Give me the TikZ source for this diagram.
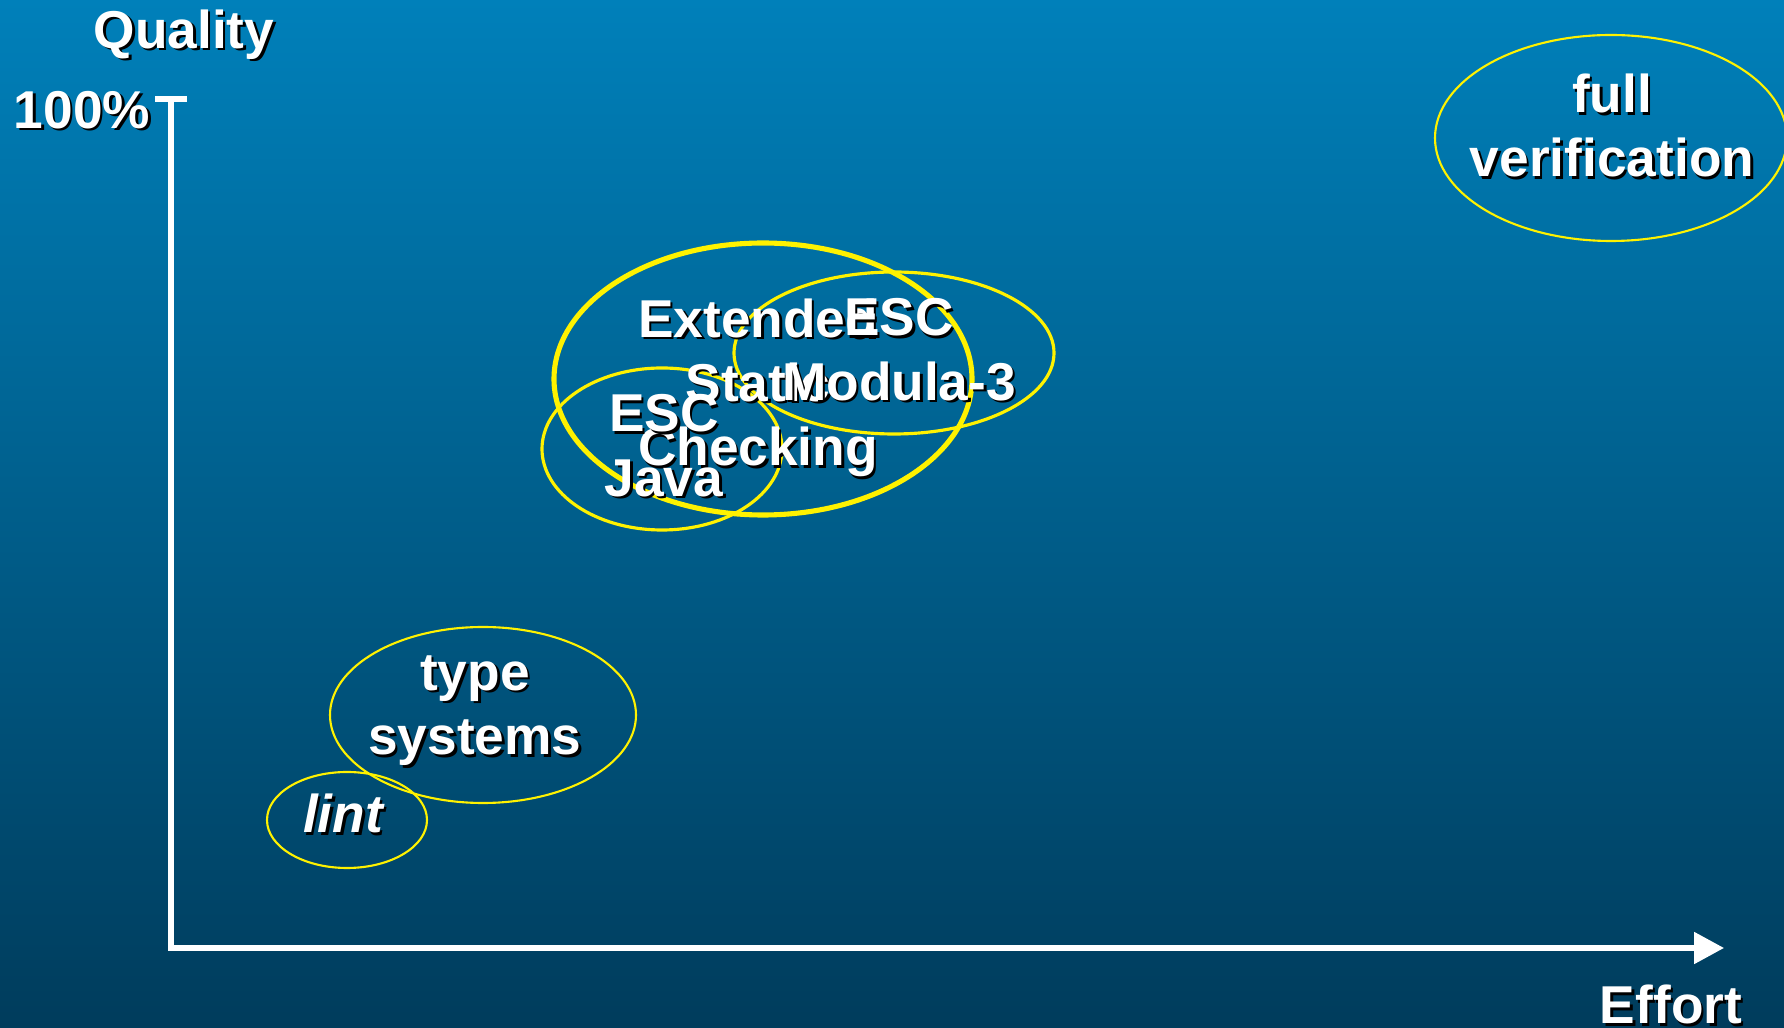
\documentclass[tikz,border=0pt]{standalone}
\usepackage{fontspec}
\setmainfont{Liberation Sans}
\usetikzlibrary{arrows.meta}
\definecolor{bgtop}{RGB}{0,128,186}
\definecolor{bgbot}{RGB}{0,60,92}
\newcommand{\shtext}[1]{\leavevmode\rlap{\kern0.7pt\raisebox{-0.7pt}{\color{black}#1}}#1}

\begin{document}
\begin{tikzpicture}[x=0.01cm,y=-0.01cm,
  lbl/.style={text=white,font=\fontsize{15.15}{18.3}\selectfont\bfseries,align=center,inner sep=0pt},
  thinring/.style={draw=yellow,line width=0.6pt},
  ring/.style={draw=yellow,line width=0.9pt},
  thickring/.style={draw=yellow,line width=1.45pt}]
  \shade[top color=bgtop,bottom color=bgbot] (0,0) rectangle (1784,1028);
  \useasboundingbox (0,0) rectangle (1784,1028);
  % axes
  \coordinate (ytop) at (171,99);
  \coordinate (orig) at (171,948);
  \coordinate (xend) at (1724,948);
  \coordinate (tickl) at (155,99);
  \coordinate (tickr) at (187,99);
  \draw[white,line width=1.45pt,-{Triangle[length=8.5pt,width=8.8pt]}] (ytop) -- (orig) -- (xend);
  \draw[white,line width=1.45pt] (tickl) -- (tickr);
  \node[lbl] (quality) at (184,36) {\shtext{Quality}};
  \node[lbl] (pct) at (82,111) {\shtext{100\%}};
  \node[lbl] (effort) at (1671,1006) {\shtext{Effort}};
  % tools
  \draw[thinring] (1611,138) ellipse (176 and 103);
  \draw[thickring] (763,379) ellipse (209 and 136);
  \draw[ring] (894,353) ellipse (160 and 81);
  \draw[ring] (662,449) ellipse (120 and 81);
  \draw[thinring] (483,715) ellipse (153 and 88);
  \draw[thinring] (347,820) ellipse (80 and 48);
  \node[lbl] (fullver) at (1612,127) {\shtext{full}\\\shtext{verification}};
  \node[lbl] (esc) at (758,389) {\shtext{Extended}\\\shtext{Static}\\\shtext{Checking}};
  \node[lbl] (escm) at (899,351) {\shtext{ESC}\\\shtext{Modula-3}};
  \node[lbl] (escj) at (664,447) {\shtext{ESC}\\\shtext{Java}};
  \node[lbl] (types) at (475,712) {\shtext{type}\\\shtext{systems}};
  \node[lbl] (lint) at (343,815) {\itshape\shtext{lint}};
\end{tikzpicture}
\end{document}
